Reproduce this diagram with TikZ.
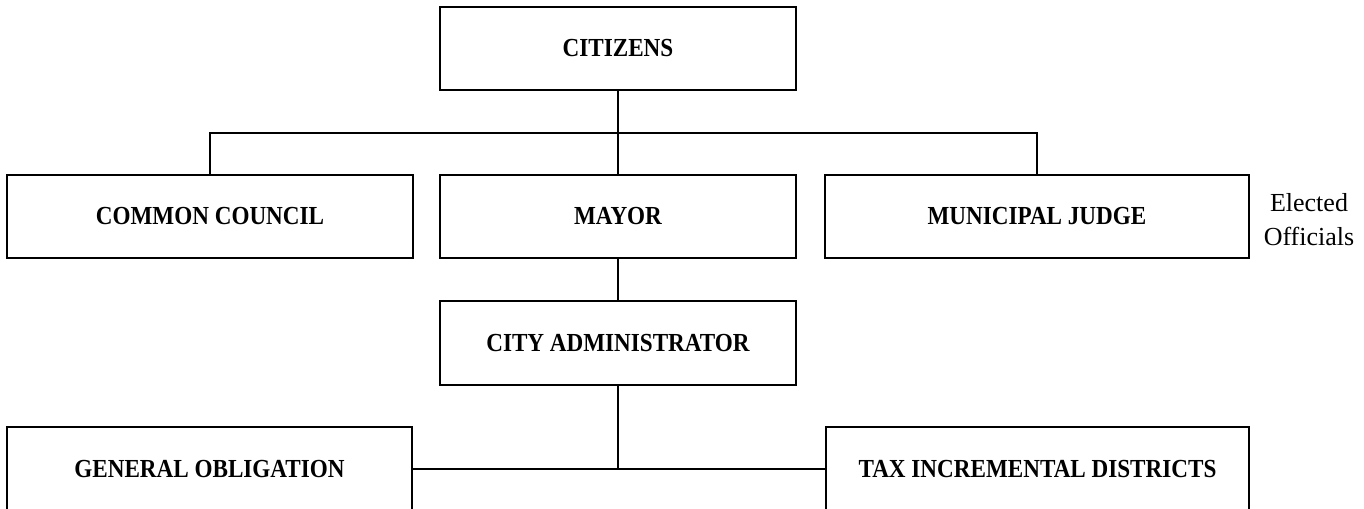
\documentclass[tikz,border=0pt]{standalone}
\usepackage{fontspec}
\setmainfont{Liberation Serif}
\newfontfamily\orgfont{Liberation Serif}[FakeStretch=0.89]
\usetikzlibrary{positioning}
\tikzset{orgbox/.style={draw, line width=1.5, inner sep=0pt, outer sep=0pt, minimum height=62.5pt,
    font=\orgfont\bfseries\fontsize{19.5}{23}\selectfont}}
\tikzset{orgline/.style={line width=1.5}}

\begin{document}
\begin{tikzpicture}[x=0.75pt,y=0.75pt,yscale=-1,xscale=1]
\useasboundingbox (0,0) rectangle (1364,509);
\clip (0,0) rectangle (1364,509);

%Top level
\node[orgbox, minimum width=267pt] (citizens) at (618,48.5) {CITIZENS};
%Elected row
\node[orgbox, minimum width=304.5pt] (council) at (210,216.5) {COMMON COUNCIL};
\node[orgbox, minimum width=267pt] (mayor) at (618,216.5) {MAYOR};
\node[orgbox, minimum width=318pt] (judge) at (1037,216.5) {MUNICIPAL JUDGE};
\node[align=center, font=\fontsize{19.5}{25.5}\selectfont] (elected) at (1309,220) {Elected\\Officials};
%Administration
\node[orgbox, minimum width=267pt, minimum height=63pt] (admin) at (618,343) {CITY ADMINISTRATOR};
\node[orgbox, minimum width=303.75pt, minimum height=63pt] (genob) at (209.5,469) {GENERAL OBLIGATION};
\node[orgbox, minimum width=317.25pt, minimum height=63pt] (tif) at (1037.5,469) {TAX INCREMENTAL DISTRICTS};

%Connectors
\coordinate (bus) at (618,133);
\draw[orgline] (citizens.south) -- (mayor.north);
\draw[orgline] (council.north) |- (bus) -| (judge.north);
\draw[orgline] (mayor.south) -- (admin.north);
\draw[orgline] (admin.south) -- (admin.south |- genob.east);
\draw[orgline] (genob.east) -- (tif.west);
\end{tikzpicture}
\end{document}
